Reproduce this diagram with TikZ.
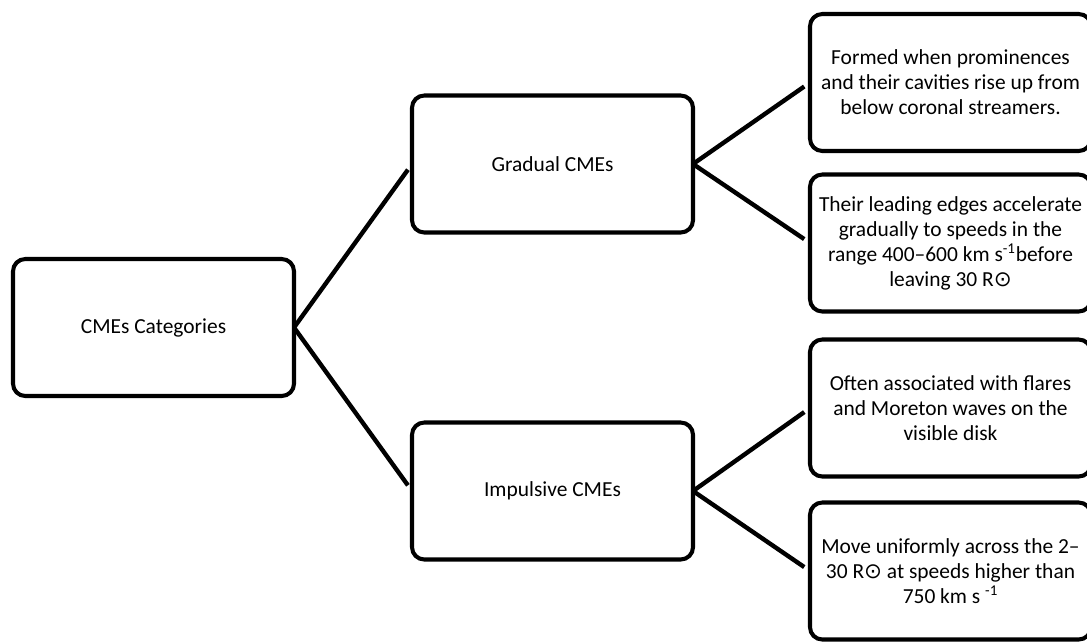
\documentclass[tikz,border=0pt]{standalone}
\usepackage{fontspec}
\setmainfont{Carlito}
\newfontfamily\symfont{DejaVu Sans}
\usepackage{tikz}

\newcommand{\sunmark}{{\symfont ⊙}}

\tikzset{
  catbox/.style={draw=black, line width=2.3pt, rounded corners=7pt, minimum width=5.62cm, minimum height=2.74cm, align=center, inner sep=0pt, outer sep=0pt, font=\fontsize{12.2}{14.2}\selectfont},
  branch/.style={black, line width=2.5pt, shorten >=0.14cm},
}

\begin{document}
\begin{tikzpicture}
  \useasboundingbox (0, 0) rectangle (21.74, -12.84);
  \clip (0, 0) rectangle (21.74, -12.84);

  \node[catbox] (root) at (3.07, -6.55) {CMEs Categories};

  \node[catbox] (gradual)   at (11.05, -3.28) {Gradual CMEs};
  \node[catbox] (impulsive) at (11.05, -9.82) {Impulsive CMEs};

  \node[catbox] (grad1) at (19.01, -1.65)  {Formed when prominences\\and their cavities rise up from\\below coronal streamers.};
  \node[catbox] (grad2) at (19.01, -4.86)  {Their leading edges accelerate\\gradually to speeds in the\\range 400--600 km s\textsuperscript{-1}before\\leaving 30 R\sunmark};
  \node[catbox] (imp1)  at (19.01, -8.16)  {Often associated with flares\\and Moreton waves on the\\visible disk};
  \node[catbox] (imp2)  at (19.01, -11.42) {Move uniformly across the 2--\\30 R\sunmark{} at speeds higher than\\750 km s \textsuperscript{-1}};

  \draw[branch] (root.east) -- (gradual.west);
  \draw[branch] (root.east) -- (impulsive.west);

  \draw[branch] (gradual.east) -- (grad1.west);
  \draw[branch] (gradual.east) -- (grad2.west);

  \draw[branch] (impulsive.east) -- (imp1.west);
  \draw[branch] (impulsive.east) -- (imp2.west);
\end{tikzpicture}
\end{document}
